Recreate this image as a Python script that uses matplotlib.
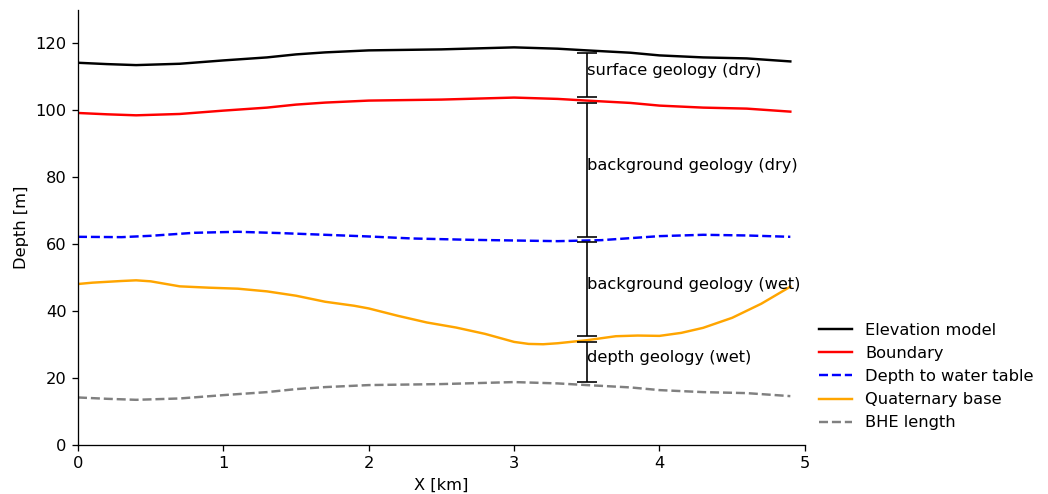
import numpy as np
import matplotlib.pyplot as plt

# profil (x en km, profondeur en m)
x_elev = [0, 0.2, 0.4, 0.7, 1.0, 1.3, 1.5, 1.7, 2.0, 2.5, 3.0, 3.3, 3.5, 3.8, 4.0, 4.3, 4.6, 4.9]
elevation = [114.2, 113.8, 113.5, 113.9, 114.9, 115.8, 116.7, 117.3, 117.9, 118.2, 118.8, 118.4, 117.9, 117.2, 116.4, 115.8, 115.5, 114.6]
boundary = [e - 15 for e in elevation]
bhe = [e - 100 for e in elevation]

x_wt = [0, 0.3, 0.5, 0.8, 1.1, 1.4, 1.7, 2.0, 2.3, 2.7, 3.0, 3.3, 3.6, 4.0, 4.3, 4.6, 4.9]
water_table = [62.2, 62.1, 62.5, 63.4, 63.7, 63.3, 62.8, 62.3, 61.7, 61.3, 61.1, 60.9, 61.2, 62.4, 62.8, 62.6, 62.2]

x_q = [0, 0.1, 0.3, 0.4, 0.5, 0.7, 0.9, 1.1, 1.3, 1.5, 1.7, 1.9, 2.0, 2.2, 2.4, 2.6, 2.8, 3.0, 3.1,
       3.2, 3.3, 3.5, 3.7, 3.85, 4.0, 4.15, 4.3, 4.5, 4.7, 4.9]
quaternary = [48.1, 48.5, 49.0, 49.2, 48.9, 47.4, 47.0, 46.7, 45.9, 44.6, 42.8, 41.6, 40.8, 38.6, 36.6, 35.1,
              33.2, 30.8, 30.2, 30.1, 30.4, 31.3, 32.5, 32.7, 32.6, 33.5, 35.0, 38.0, 42.2, 47.3]

# couches (haut, bas) a x = 3.5
x_couches = 3.5
couches = ["surface geology (dry)", "background geology (dry)", "background geology (wet)", "depth geology (wet)"]
haut = [117.2, 102.2, 60.7, 30.8]
bas = [104.0, 62.2, 32.6, 18.8]

fig, ax = plt.subplots(figsize=(1048 / 117, 494 / 117), dpi=117)
fig.subplots_adjust(left=0.0744, right=0.768, top=0.980, bottom=0.0992)

ax.plot(x_elev, elevation, color='black', label='Elevation model')
ax.plot(x_elev, boundary, color='red', label='Boundary')
ax.plot(x_wt, water_table, color='blue', linestyle='--', label='Depth to water table')
ax.plot(x_q, quaternary, color='orange', label='Quaternary base')
ax.plot(x_elev, bhe, color='grey', linestyle='--', label='BHE length')

for nom, h, b in zip(couches, haut, bas):
    milieu = (h + b) / 2
    ax.errorbar(x_couches, milieu, yerr=(h - b) / 2, fmt='none', ecolor='black', capsize=6, elinewidth=1)
    ax.text(x_couches, milieu, nom, va='baseline', ha='left')

ax.set_xlim(0, 5)
ax.set_ylim(0, 130)
ax.set_xlabel("X [km]")
ax.set_ylabel("Depth [m]")
ax.spines['top'].set_visible(False)
ax.spines['right'].set_visible(False)
ax.legend(loc='lower left', bbox_to_anchor=(1.0, 0.0), frameon=False)

plt.savefig("out.png", dpi=117)
